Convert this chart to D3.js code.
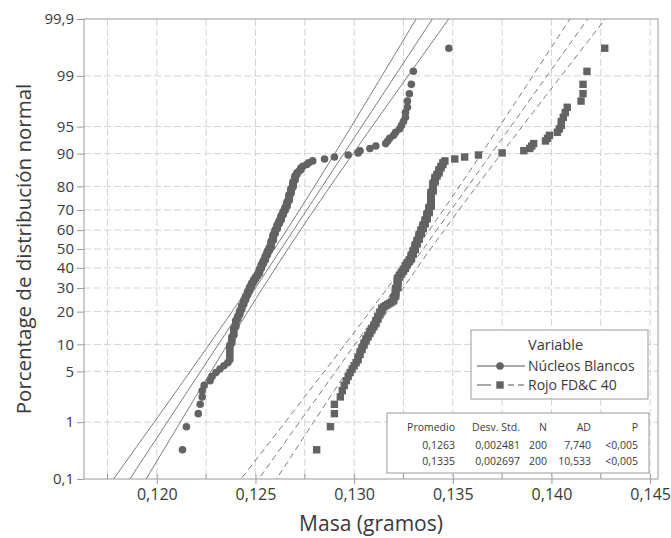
<!DOCTYPE html>
<html>
<head>
<meta charset="utf-8">
<script src="https://cdn.jsdelivr.net/npm/d3@7"></script>
<style>
  body { margin: 0; background: #fff; }
  text { font-family: "Open Sans", sans-serif; fill: #3a3a3a; }
</style>
</head>
<body>
<div id="chart"></div>
<script>
var blancosMasa = [0.1213, 0.1215, 0.1221, 0.1222, 0.1223, 0.1224, 0.1227, 0.1228, 0.1230, 0.1232,
  0.1234, 0.1236, 0.1237, 0.1238, 0.1239, 0.1240, 0.1241, 0.1242, 0.1243, 0.1244,
  0.1245, 0.1246, 0.1247, 0.1248, 0.1249, 0.1250, 0.1251, 0.1252, 0.1253, 0.1254,
  0.1255, 0.1256, 0.1257, 0.1258, 0.1259, 0.1260, 0.1261, 0.1262, 0.1263, 0.1264,
  0.1265, 0.1266, 0.1267, 0.1268, 0.1269, 0.1270, 0.1271, 0.1272, 0.1273, 0.1274,
  0.1276, 0.1277, 0.1279, 0.1285, 0.1290, 0.1297, 0.1302, 0.1303, 0.1308, 0.1311,
  0.1316, 0.1317, 0.1318, 0.1320, 0.1321, 0.1323, 0.1324, 0.1325, 0.1326, 0.1327,
  0.1328, 0.1329, 0.1330, 0.1348];
var blancosCuenta = [1, 1, 1, 1, 2, 1, 1, 1, 1, 1,
  1, 1, 7, 4, 5, 5, 3, 4, 4, 4,
  4, 4, 4, 4, 3, 3, 3, 5, 5, 4,
  5, 5, 4, 7, 7, 5, 5, 4, 5, 4,
  4, 5, 6, 5, 5, 4, 2, 1, 2, 1,
  1, 1, 1, 1, 1, 1, 1, 1, 1, 1,
  1, 1, 1, 1, 1, 1, 1, 1, 2, 2,
  1, 1, 1, 1];

var rojoMasa = [0.1281, 0.1288, 0.1290, 0.1293, 0.1294, 0.1295, 0.1296, 0.1297, 0.1298, 0.1299,
  0.1300, 0.1301, 0.1302, 0.1303, 0.1304, 0.1305, 0.1306, 0.1307, 0.1308, 0.1309,
  0.1310, 0.1311, 0.1312, 0.1313, 0.1314, 0.1315, 0.1316, 0.1317, 0.1318, 0.1319,
  0.1320, 0.1321, 0.1322, 0.1323, 0.1324, 0.1325, 0.1326, 0.1327, 0.1328, 0.1329,
  0.1330, 0.1331, 0.1332, 0.1333, 0.1334, 0.1335, 0.1336, 0.1337, 0.1338, 0.1339,
  0.1340, 0.1341, 0.1342, 0.1343, 0.1344, 0.1345, 0.1346, 0.1351, 0.1356, 0.1363,
  0.1375, 0.1386, 0.1389, 0.1390, 0.1391, 0.1397, 0.1398, 0.1399, 0.1403, 0.1404,
  0.1405, 0.1406, 0.1407, 0.1408, 0.1415, 0.1416, 0.1418, 0.1427];
var rojoCuenta = [1, 1, 2, 1, 1, 1, 1, 1, 1, 1,
  1, 1, 2, 2, 2, 2, 2, 2, 2, 2,
  2, 3, 3, 3, 3, 1, 1, 1, 1, 1,
  4, 8, 10, 3, 3, 3, 4, 3, 3, 5,
  5, 6, 5, 6, 5, 5, 5, 6, 6, 13,
  7, 4, 2, 3, 2, 2, 1, 1, 1, 1,
  1, 1, 1, 1, 1, 1, 1, 1, 1, 1,
  2, 1, 1, 1, 1, 2, 1, 1];

// fitted normal parameters (from the table)
var fitMedia = [0.1263, 0.1335];
var fitDesv = [0.002481, 0.002697];
var fitN = [200, 200];

var xTicks = [0.120, 0.125, 0.130, 0.135, 0.140, 0.145];
var xGrid = [0.1175, 0.120, 0.1225, 0.125, 0.1275, 0.130, 0.1325, 0.135, 0.1375, 0.140, 0.1425, 0.145];
var xMinor = [0.1175, 0.1225, 0.1275, 0.1325, 0.1375, 0.1425];
var yTicks = [0.1, 1, 5, 10, 20, 30, 40, 50, 60, 70, 80, 90, 95, 99, 99.9];
var yTickLabels = ["0,1", "1", "5", "10", "20", "30", "40", "50", "60", "70", "80", "90", "95", "99", "99,9"];

var series = ["Núcleos Blancos", "Rojo FD&C 40"];
var statsHeader = ["Promedio", "Desv. Std.", "N", "AD", "P"];
var statsRows = [
  ["0,1263", "0,002481", "200", "7,740", "<0,005"],
  ["0,1335", "0,002697", "200", "10,533", "<0,005"]
];

// inverse normal cdf (Acklam)
function probit(p) {
  var a = [-3.969683028665376e+01, 2.209460984245205e+02, -2.759285104469687e+02, 1.383577518672690e+02, -3.066479806614716e+01, 2.506628277459239e+00];
  var b = [-5.447609879822406e+01, 1.615858368580409e+02, -1.556989798598866e+02, 6.680131188771972e+01, -1.328068155288572e+01];
  var c = [-7.784894002430293e-03, -3.223964580411365e-01, -2.400758277161838e+00, -2.549671348018700e+00, 4.374664141464968e+00, 2.938163982698783e+00];
  var d = [7.784695709041462e-03, 3.224671290700398e-01, 2.445134137142996e+00, 3.754408661907416e+00];
  var q, r;
  if (p < 0.02425) {
    q = Math.sqrt(-2 * Math.log(p));
    return (((((c[0] * q + c[1]) * q + c[2]) * q + c[3]) * q + c[4]) * q + c[5]) / ((((d[0] * q + d[1]) * q + d[2]) * q + d[3]) * q + 1);
  }
  if (p > 1 - 0.02425) {
    q = Math.sqrt(-2 * Math.log(1 - p));
    return -(((((c[0] * q + c[1]) * q + c[2]) * q + c[3]) * q + c[4]) * q + c[5]) / ((((d[0] * q + d[1]) * q + d[2]) * q + d[3]) * q + 1);
  }
  q = p - 0.5; r = q * q;
  return (((((a[0] * r + a[1]) * r + a[2]) * r + a[3]) * r + a[4]) * r + a[5]) * q / (((((b[0] * r + b[1]) * r + b[2]) * r + b[3]) * r + b[4]) * r + 1);
}

// sorted values -> median rank plotting positions
function expandir(masas, cuentas) {
  var v = [];
  masas.forEach(function(m, k) {
    for (var j = 0; j < cuentas[k]; j++) v.push(m);
  });
  return v.map(function(m, i) {
    return { masa: m, z: probit((i + 1 - 0.3) / (v.length + 0.4)) };
  });
}

var svgWidth = 671;
var svgHeight = 538;
var plot = { left: 84, top: 19, right: 658, bottom: 479 };

var svg = d3.select("#chart")
  .append("svg")
  .attr("width", svgWidth)
  .attr("height", svgHeight);

var xScale = d3.scaleLinear()
  .domain([0.11631, 0.14540])
  .range([plot.left, plot.right]);

var yScale = d3.scaleLinear()
  .domain([probit(0.001), probit(0.999)])
  .range([plot.bottom, plot.top]);

function yPct(v) { return yScale(probit(v / 100)); }

svg.append("defs").append("clipPath")
  .attr("id", "clip")
  .append("rect")
  .attr("x", plot.left)
  .attr("y", plot.top)
  .attr("width", plot.right - plot.left)
  .attr("height", plot.bottom - plot.top);

// grid
svg.append("g").selectAll("line")
  .data(xGrid)
  .enter()
  .append("line")
  .attr("x1", d => xScale(d))
  .attr("x2", d => xScale(d))
  .attr("y1", plot.top)
  .attr("y2", plot.bottom)
  .attr("stroke", "#d4d4d4")
  .attr("stroke-dasharray", "7,3");

svg.append("g").selectAll("line")
  .data(yTicks.slice(1, -1))
  .enter()
  .append("line")
  .attr("x1", plot.left)
  .attr("x2", plot.right)
  .attr("y1", d => yPct(d))
  .attr("y2", d => yPct(d))
  .attr("stroke", "#d4d4d4")
  .attr("stroke-dasharray", "7,3");

// frame
svg.append("rect")
  .attr("x", plot.left)
  .attr("y", plot.top)
  .attr("width", plot.right - plot.left)
  .attr("height", plot.bottom - plot.top)
  .attr("fill", "none")
  .attr("stroke", "#9a9a9a");

// x axis
var xAxis = d3.axisBottom(xScale)
  .tickValues(xTicks)
  .tickSize(5)
  .tickFormat(d => d3.format(".3f")(d).replace(".", ","));

var gx = svg.append("g")
  .attr("transform", `translate(0, ${plot.bottom})`)
  .call(xAxis);
gx.select(".domain").remove();
gx.selectAll("line").attr("stroke", "#9a9a9a").attr("y1", -5);
gx.selectAll("text")
  .attr("y", 10)
  .style("font-size", "16px")
  .style("font-family", "Open Sans, sans-serif")
  .attr("fill", "#3a3a3a");

svg.append("g").selectAll("line")
  .data(xMinor)
  .enter()
  .append("line")
  .attr("x1", d => xScale(d))
  .attr("x2", d => xScale(d))
  .attr("y1", plot.bottom - 5)
  .attr("y2", plot.bottom)
  .attr("stroke", "#9a9a9a");

// y axis
var yAxis = d3.axisLeft(yScale)
  .tickValues(yTicks.map(v => probit(v / 100)))
  .tickSize(7)
  .tickFormat((d, i) => yTickLabels[i]);

var gy = svg.append("g")
  .attr("transform", `translate(${plot.left}, 0)`)
  .call(yAxis);
gy.select(".domain").remove();
gy.selectAll("line").attr("stroke", "#9a9a9a");
gy.selectAll("text")
  .attr("x", -10)
  .style("font-size", "15px")
  .style("font-family", "Open Sans, sans-serif")
  .attr("fill", "#3a3a3a");

// axis titles
svg.append("text")
  .attr("transform", "rotate(-90)")
  .attr("x", -249)
  .attr("y", 31)
  .style("text-anchor", "middle")
  .style("font-size", "20.5px")
  .text("Porcentage de distribución normal");

svg.append("text")
  .attr("x", (plot.left + plot.right) / 2)
  .attr("y", 531)
  .style("text-anchor", "middle")
  .style("font-size", "21px")
  .text("Masa (gramos)");

// fitted lines with 95% bands
var chartGroup = svg.append("g").attr("clip-path", "url(#clip)");
var zs = d3.range(-3.6, 3.61, 0.05);

fitMedia.forEach(function(mu, k) {
  var s = fitDesv[k], n = fitN[k];
  [-1, 0, 1].forEach(function(side) {
    var line = d3.line()
      .x(z => xScale(mu + z * s + side * 1.96 * s * Math.sqrt(1 / n + z * z / (2 * n))))
      .y(z => yScale(z));
    chartGroup.append("path")
      .datum(zs)
      .attr("d", line)
      .attr("fill", "none")
      .attr("stroke", "#7a7a7a")
      .attr("stroke-width", 1)
      .attr("stroke-dasharray", k === 1 ? "6,4" : null);
  });
});

// points
var blancos = expandir(blancosMasa, blancosCuenta);
var rojo = expandir(rojoMasa, rojoCuenta);

chartGroup.selectAll("circle")
  .data(blancos)
  .enter()
  .append("circle")
  .attr("cx", d => xScale(d.masa))
  .attr("cy", d => yScale(d.z))
  .attr("r", 3.8)
  .attr("fill", "#636363");

chartGroup.selectAll("rect.sq")
  .data(rojo)
  .enter()
  .append("rect")
  .attr("class", "sq")
  .attr("x", d => xScale(d.masa) - 3.7)
  .attr("y", d => yScale(d.z) - 3.7)
  .attr("width", 7.4)
  .attr("height", 7.4)
  .attr("fill", "#636363");

// legend
var legend = svg.append("g");
legend.append("rect")
  .attr("x", 471).attr("y", 330)
  .attr("width", 177).attr("height", 69)
  .attr("fill", "#fff")
  .attr("stroke", "#9a9a9a");

legend.append("text")
  .attr("x", 528).attr("y", 345).attr("dy", "0.35em")
  .style("font-size", "14.5px")
  .text("Variable");

var legY = [366, 385];
series.forEach(function(name, k) {
  if (k === 0) {
    legend.append("line")
      .attr("x1", 477).attr("x2", 525)
      .attr("y1", legY[k]).attr("y2", legY[k])
      .attr("stroke", "#555");
    legend.append("circle")
      .attr("cx", 500).attr("cy", legY[k]).attr("r", 3.8)
      .attr("fill", "#636363");
  } else {
    [[477, 491], [508, 514], [518, 524]].forEach(function(seg) {
      legend.append("line")
        .attr("x1", seg[0]).attr("x2", seg[1])
        .attr("y1", legY[k]).attr("y2", legY[k])
        .attr("stroke", "#555");
    });
    legend.append("rect")
      .attr("x", 496.3).attr("y", legY[k] - 3.7)
      .attr("width", 7.4).attr("height", 7.4)
      .attr("fill", "#636363");
  }
  legend.append("text")
    .attr("x", 528).attr("y", legY[k]).attr("dy", "0.35em")
    .style("font-size", "14px")
    .text(name);
});

// stats table
var stats = svg.append("g");
stats.append("rect")
  .attr("x", 387).attr("y", 413)
  .attr("width", 262).attr("height", 60)
  .attr("fill", "#fff")
  .attr("stroke", "#9a9a9a");

var colRight = [455, 520, 547, 591, 638];
var rowY = [427, 445, 461];
[statsHeader].concat(statsRows).forEach(function(row, r) {
  row.forEach(function(cell, c) {
    stats.append("text")
      .attr("x", colRight[c]).attr("y", rowY[r]).attr("dy", "0.35em")
      .style("text-anchor", "end")
      .style("font-size", "10.5px")
      .text(cell);
  });
});
</script>
</body>
</html>
